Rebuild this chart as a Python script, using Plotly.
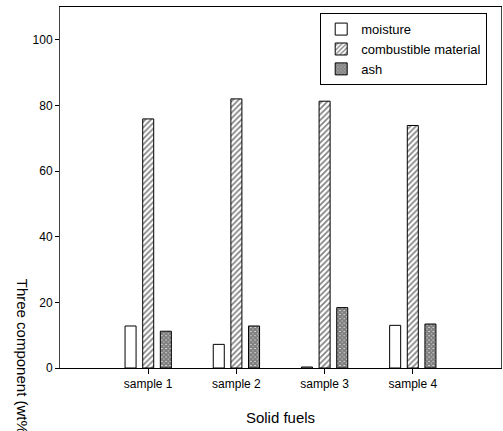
import plotly.graph_objects as go

categories = ["sample 1", "sample 2", "sample 3", "sample 4"]
moisture = [12.8, 7.2, 0.3, 13.0]
combustible = [75.9, 82.0, 81.3, 73.9]
ash = [11.2, 12.8, 18.4, 13.4]
y_ticks = [0, 20, 40, 60, 80, 100]

xpos = list(range(len(categories)))
font = "Liberation Sans, Arial, sans-serif"

fig = go.Figure()
fig.add_trace(go.Bar(x=xpos, y=moisture, name="moisture",
                     marker=dict(color="white", line=dict(color="black", width=1))))
fig.add_trace(go.Bar(x=xpos, y=combustible, name="combustible material",
                     marker=dict(color="white", line=dict(color="black", width=1),
                                 pattern=dict(shape="/", size=4, solidity=0.4,
                                              fgcolor="black", bgcolor="white"))))
fig.add_trace(go.Bar(x=xpos, y=ash, name="ash",
                     marker=dict(color="white", line=dict(color="black", width=1),
                                 pattern=dict(shape="x", size=3, solidity=0.9,
                                              fgcolor="black", bgcolor="white"))))

fig.update_layout(
    width=503, height=431,
    margin=dict(l=60, r=2, t=7, b=63),
    paper_bgcolor="white", plot_bgcolor="white",
    barmode="group", bargap=0.4, bargroupgap=0.375,
    font=dict(family=font, size=12, color="black"),
    showlegend=True,
    legend=dict(x=0.59, y=0.983, xanchor="left", yanchor="top",
                bordercolor="black", borderwidth=1, bgcolor="white",
                font=dict(size=13), tracegroupgap=0, itemwidth=30),
    xaxis=dict(
        tickmode="array", tickvals=xpos, ticktext=categories,
        range=[-1.0, 4.0], showgrid=False, zeroline=False,
        showline=True, linecolor="black", linewidth=1, mirror=True,
        ticks="outside", ticklen=5, tickcolor="black",
        title=dict(text="Solid fuels", font=dict(size=15), standoff=22),
    ),
    yaxis=dict(
        range=[0, 110], tickvals=y_ticks, showgrid=False, zeroline=False,
        showline=True, linecolor="#444", linewidth=1, mirror=True,
        ticks="outside", ticklen=4, tickcolor="black",
    ),
    annotations=[dict(text="Three component (wt%)", textangle=90,
                      xref="paper", yref="paper", x=-0.085, y=0.027,
                      xanchor="center", yanchor="middle", showarrow=False,
                      font=dict(size=15))],
)

fig.write_html("out.html", config={"displayModeBar": False},
               post_script="document.body.style.margin='0';document.body.style.overflow='hidden';")
